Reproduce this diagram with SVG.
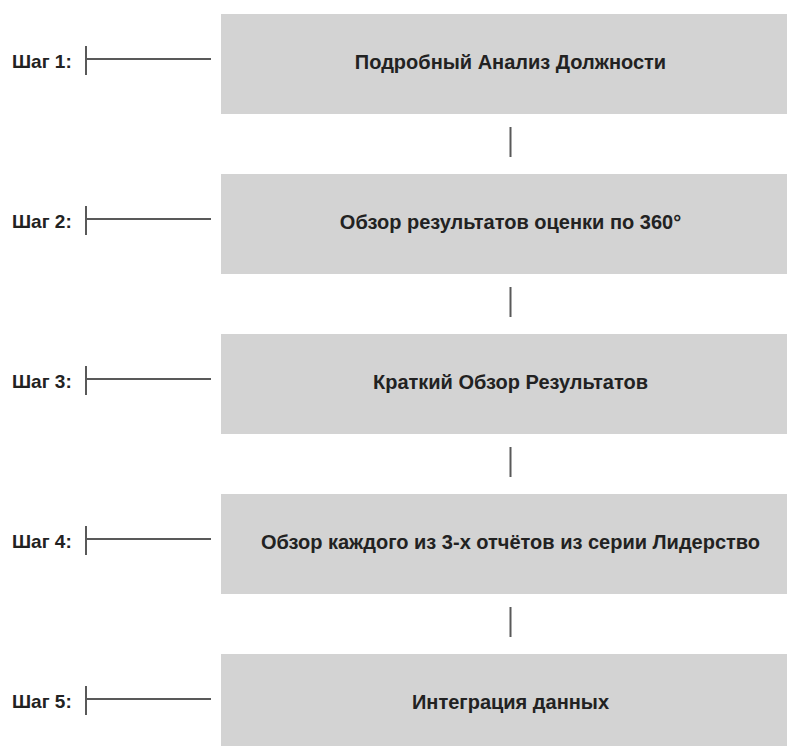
<svg xmlns="http://www.w3.org/2000/svg" width="787" height="746" viewBox="0 0 787 746">
<style>
.box{fill:#d3d3d3}
.t{font-family:"Liberation Sans",Arial,sans-serif;font-weight:bold;fill:#222;font-size:20px}
.lbl{font-family:"Liberation Sans",Arial,sans-serif;font-weight:bold;fill:#222;font-size:19px}
.ln{stroke:#595959;stroke-width:2;fill:none}
</style>
<rect width="787" height="746" fill="#fff"/>
<g id="connectors">
<line class="ln" x1="510.5" y1="127" x2="510.5" y2="157"/>
<line class="ln" x1="510.5" y1="287" x2="510.5" y2="317"/>
<line class="ln" x1="510.5" y1="447" x2="510.5" y2="477"/>
<line class="ln" x1="510.5" y1="607" x2="510.5" y2="637"/>
</g>
<g id="step1">
<rect class="box" x="221" y="14" width="580" height="100"/>
<text class="t" x="510.5" y="69" text-anchor="middle">Подробный Анализ Должности</text>
<text class="lbl" x="12" y="68">Шаг 1:</text>
<line class="ln" x1="86" y1="46" x2="86" y2="75"/>
<line class="ln" x1="86" y1="59" x2="211" y2="59"/>
</g>
<g id="step2">
<rect class="box" x="221" y="174" width="580" height="100"/>
<text class="t" x="510.5" y="229" text-anchor="middle">Обзор результатов оценки по 360°</text>
<text class="lbl" x="12" y="228">Шаг 2:</text>
<line class="ln" x1="86" y1="206" x2="86" y2="235"/>
<line class="ln" x1="86" y1="219" x2="211" y2="219"/>
</g>
<g id="step3">
<rect class="box" x="221" y="334" width="580" height="100"/>
<text class="t" x="510.5" y="389" text-anchor="middle">Краткий Обзор Результатов</text>
<text class="lbl" x="12" y="388">Шаг 3:</text>
<line class="ln" x1="86" y1="366" x2="86" y2="395"/>
<line class="ln" x1="86" y1="379" x2="211" y2="379"/>
</g>
<g id="step4">
<rect class="box" x="221" y="494" width="580" height="100"/>
<text class="t" x="510.5" y="549" text-anchor="middle">Обзор каждого из 3-х отчётов из серии Лидерство</text>
<text class="lbl" x="12" y="548">Шаг 4:</text>
<line class="ln" x1="86" y1="526" x2="86" y2="555"/>
<line class="ln" x1="86" y1="539" x2="211" y2="539"/>
</g>
<g id="step5">
<rect class="box" x="221" y="654" width="580" height="100"/>
<text class="t" x="510.5" y="709" text-anchor="middle">Интеграция данных</text>
<text class="lbl" x="12" y="708">Шаг 5:</text>
<line class="ln" x1="86" y1="686" x2="86" y2="715"/>
<line class="ln" x1="86" y1="699" x2="211" y2="699"/>
</g>
</svg>
